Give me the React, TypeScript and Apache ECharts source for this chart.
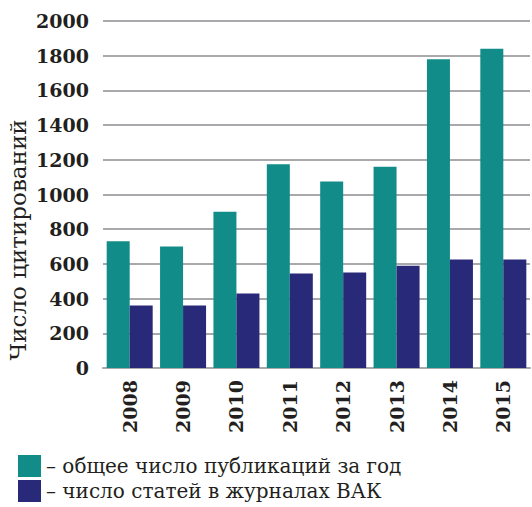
import React, { useEffect, useRef } from "react";
import * as echarts from "echarts";

const years = ["2008", "2009", "2010", "2011", "2012", "2013", "2014", "2015"];
const totalPubs = [730, 700, 900, 1175, 1075, 1160, 1780, 1840];
const vakPubs = [360, 360, 430, 545, 550, 590, 625, 625];
const seriesNames = ["общее число публикаций за год", "число статей в журналах ВАК"];
const yAxisTitle = "Число цитирований";

const TEAL = "#128c89";
const NAVY = "#29297a";
const TEXT = "#231f20";
const GRID = "#a9a9ad";

const legendText = { fontFamily: "DejaVu Serif", fontSize: 20, color: TEXT };

export default function App() {
  const ref = useRef<HTMLDivElement>(null);
  useEffect(() => {
    if (!ref.current) return;
    const chart = echarts.init(ref.current, null, { renderer: "svg" });
    chart.setOption({
      animation: false,
      backgroundColor: "#ffffff",
      grid: { left: 103, right: 2, top: 21, bottom: 139 },
      legend: [
        {
          orient: "vertical",
          left: 18,
          top: 455,
          padding: 0,
          itemWidth: 23,
          itemHeight: 22,
          icon: "rect",
          data: [seriesNames[0]],
          formatter: (n: string) => "– " + n,
          textStyle: legendText,
        },
        {
          orient: "vertical",
          left: 18,
          top: 480,
          padding: 0,
          itemWidth: 23,
          itemHeight: 22,
          icon: "rect",
          data: [seriesNames[1]],
          formatter: (n: string) => "– " + n,
          textStyle: legendText,
        },
      ],
      graphic: [
        {
          type: "text",
          x: 18,
          y: 240,
          rotation: Math.PI / 2,
          style: {
            text: yAxisTitle,
            fontFamily: "DejaVu Serif",
            fontSize: 23,
            fill: TEXT,
            textAlign: "center",
            textVerticalAlign: "middle",
          },
        },
      ],
      xAxis: {
        type: "category",
        data: years,
        axisLine: { show: true, lineStyle: { color: GRID, width: 2 } },
        axisTick: { show: false },
        axisLabel: {
          rotate: 90,
          margin: 12,
          fontFamily: "DejaVu Serif",
          fontWeight: "bold",
          fontSize: 19,
          color: TEXT,
        },
      },
      yAxis: {
        type: "value",
        min: 0,
        max: 2000,
        interval: 200,
        axisLine: { show: false },
        axisTick: { show: false },
        splitLine: { show: true, lineStyle: { color: GRID, width: 2 } },
        axisLabel: {
          margin: 14,
          formatter: (v: number) => String(v),
          fontFamily: "DejaVu Serif",
          fontWeight: "bold",
          fontSize: 19,
          color: TEXT,
        },
      },
      series: [
        {
          name: seriesNames[0],
          type: "bar",
          data: totalPubs,
          barWidth: 23,
          barGap: "0%",
          itemStyle: { color: TEAL },
        },
        {
          name: seriesNames[1],
          type: "bar",
          data: vakPubs,
          barWidth: 23,
          barGap: "0%",
          itemStyle: { color: NAVY },
        },
      ],
    });
    return () => chart.dispose();
  }, []);
  return (
    <div
      ref={ref}
      style={{ position: "absolute", left: 0, top: 0, width: 532, height: 507 }}
    />
  );
}
